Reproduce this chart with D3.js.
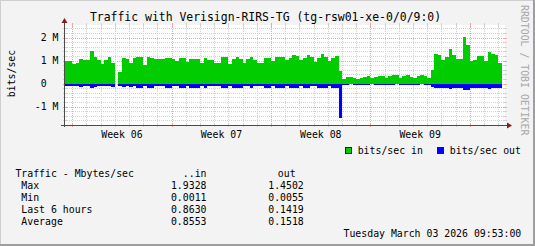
<!DOCTYPE html>
<html>
<head>
<meta charset="utf-8">
<script src="https://cdn.jsdelivr.net/npm/d3@7"></script>
<style>
    html, body { margin: 0; padding: 0; background: #f3f3f3; }
    svg { display: block; }
    text { font-family: "DejaVu Sans Mono", monospace; white-space: pre; }
</style>
</head>
<body>
<div id="chart"></div>
<script>
// 6-hour averages in Mbit/s, first bin starts 2026-02-01 12:00 UTC
const binStart = Date.UTC(2026, 1, 1, 12);
const binHours = 6;
const timeWindow = [Date.UTC(2026, 1, 1, 11, 40), Date.UTC(2026, 2, 4, 11, 20)];

const inValues = [
    1.00, 1.00, 0.87, 0.90, 1.07, 1.03, 1.03, 1.42, 1.17, 1.04,
    0.85, 1.04, 1.16, 0.91, null, 0.50, 1.11, 1.07, 0.90, 1.12,
    1.15, 1.14, 0.81, 1.16, 1.13, 1.07, 1.06, 1.06, 1.13, 1.13,
    1.06, 0.97, 1.10, 1.10, 0.92, 1.08, 1.08, 1.08, 0.91, 1.10,
    1.04, 1.04, 0.89, 0.89, 1.14, 1.14, 0.85, 1.06, 1.16, 1.06,
    0.91, 1.06, 1.14, 1.03, 0.89, 0.89, 1.11, 1.11, 0.98, 1.14,
    1.16, 1.16, 1.04, 1.11, 1.24, 1.20, 1.01, 1.11, 1.24, 1.16,
    0.95, 1.11, 1.29, 1.16, 1.00, 1.11, 1.20, 0.56, 0.19, 0.29,
    0.29, 0.23, 0.20, 0.26, 0.30, 0.34, 0.26, 0.30, 0.34, 0.34,
    0.26, 0.33, 0.37, 0.37, 0.26, 0.34, 0.37, 0.30, 0.26, 0.33,
    0.37, 0.32, 0.24, 0.59, 1.29, 1.24, 1.04, 1.16, 1.50, 1.24,
    1.07, 1.07, 2.02, 1.68, 1.00, 1.02, 1.20, 1.20, 1.00, 1.37,
    1.29, 1.24, 0.90
];
const outValues = [
    0.10, 0.10, 0.10, 0.10, 0.16, 0.10, 0.10, 0.20, 0.16, 0.10,
    0.10, 0.10, 0.10, 0.16, null, 0.10, 0.16, 0.10, 0.16, 0.10,
    0.17, 0.17, 0.10, 0.17, 0.17, 0.10, 0.10, 0.10, 0.17, 0.17,
    0.10, 0.10, 0.17, 0.17, 0.10, 0.17, 0.17, 0.17, 0.10, 0.17,
    0.10, 0.10, 0.10, 0.10, 0.17, 0.17, 0.10, 0.17, 0.17, 0.17,
    0.10, 0.10, 0.17, 0.10, 0.10, 0.10, 0.17, 0.17, 0.10, 0.17,
    0.17, 0.17, 0.10, 0.17, 0.17, 0.17, 0.10, 0.17, 0.17, 0.10,
    0.10, 0.17, 0.17, 0.17, 0.10, 0.17, 0.17, 1.50, 0.04, 0.04,
    0.03, 0.04, 0.04, 0.05, 0.04, 0.04, 0.03, 0.04, 0.04, 0.05,
    0.04, 0.04, 0.04, 0.03, 0.04, 0.04, 0.05, 0.04, 0.04, 0.04,
    0.03, 0.04, 0.04, 0.13, 0.18, 0.18, 0.18, 0.18, 0.22, 0.18,
    0.18, 0.18, 0.29, 0.29, 0.18, 0.18, 0.18, 0.18, 0.18, 0.22,
    0.18, 0.18, 0.18
];

const yMajor = [-1, 0, 1, 2];
const yLabels = ["-1 M", "0  ", "1 M", "2 M"];
const weekLabels = ["Week 06", "Week 07", "Week 08", "Week 09"];
const seriesNames = ["bits/sec in", "bits/sec out"];
const statHeader = ["Traffic - Mbytes/sec", "..in", "out"];
const statRows = [" Max", " Min", " Last 6 hours", " Average"];
const statIn = ["1.9328", "0.0011", "0.8630", "0.8553"];
const statOut = ["1.4502", "0.0055", "0.1419", "0.1518"];
const stamp = "Tuesday March 03 2026 09:53:00";

const width = 535, height = 246;
const plot = { left: 65, right: 505, top: 25, bottom: 125 };
const colors = { in: "#00cc00", out: "#0000ff", grid: "#d2d2d2", mgrid: "#f2a2a2", axis: "#4a4a4a", arrow: "#8c1a1a" };
const fontSmall = "9.85px";

const svg = d3.select("#chart").append("svg")
    .attr("width", width)
    .attr("height", height);

// background and shaded frame
svg.append("rect").attr("width", width).attr("height", height).attr("fill", "#f3f3f3");
svg.append("path").attr("d", `M0,${height} V0 H${width}`).attr("fill", "none")
    .attr("stroke", "#cfcfcf").attr("stroke-width", 2);
svg.append("path").attr("d", `M0,${height - 1} H${width - 1} V0`).attr("fill", "none")
    .attr("stroke", "#9e9e9e").attr("stroke-width", 2);

const x = d3.scaleUtc().domain(timeWindow).range([plot.left, plot.right]);
const y = d3.scaleLinear().domain([-1.8, 2.55]).range([plot.bottom, plot.top]);

// canvas
svg.append("rect")
    .attr("x", plot.left).attr("y", plot.top)
    .attr("width", plot.right - plot.left).attr("height", plot.bottom - plot.top)
    .attr("fill", "#fff");

const grid = svg.append("g").attr("shape-rendering", "crispEdges");

// horizontal grid, every 0.2 M
const yMinor = d3.range(-8, 13).map(i => i / 5).filter(v => !yMajor.includes(v));
function hLine(v, color) {
    const yy = Math.round(y(v)) + 0.5;
    grid.append("line").attr("x1", plot.left).attr("x2", plot.right).attr("y1", yy).attr("y2", yy)
        .attr("stroke", color).attr("stroke-dasharray", "1,1");
    grid.append("line").attr("x1", plot.left - 2).attr("x2", plot.left + 2).attr("y1", yy).attr("y2", yy)
        .attr("stroke", color);
    grid.append("line").attr("x1", plot.right - 2).attr("x2", plot.right + 2).attr("y1", yy).attr("y2", yy)
        .attr("stroke", color);
}
yMinor.forEach(v => hLine(v, colors.grid));
yMajor.forEach(v => hLine(v, colors.mgrid));

// vertical grid, every day; Mondays red
const days = d3.utcDay.range(...timeWindow);
const mondays = d3.utcMonday.range(...timeWindow);
function vLine(t, color) {
    const xx = Math.round(x(t)) + 0.5;
    grid.append("line").attr("x1", xx).attr("x2", xx).attr("y1", plot.top).attr("y2", plot.bottom)
        .attr("stroke", color).attr("stroke-dasharray", "1,1");
    grid.append("line").attr("x1", xx).attr("x2", xx).attr("y1", plot.bottom - 2).attr("y2", plot.bottom + 2)
        .attr("stroke", color);
    grid.append("line").attr("x1", xx).attr("x2", xx).attr("y1", plot.top - 2).attr("y2", plot.top + 2)
        .attr("stroke", color);
}
days.filter(d => d.getUTCDay() !== 1).forEach(d => vLine(d, colors.grid));
mondays.forEach(d => vLine(d, colors.mgrid));

// data as step areas
function steps(values, sign) {
    const pts = [];
    values.forEach((v, i) => {
        const t0 = binStart + i * binHours * 3600e3;
        const t1 = t0 + binHours * 3600e3;
        pts.push({ t: t0, v: v == null ? null : sign * v });
        pts.push({ t: t1, v: v == null ? null : sign * v });
    });
    return pts;
}
const area = d3.area()
    .defined(d => d.v != null)
    .x(d => x(d.t))
    .y0(y(0))
    .y1(d => y(d.v));

svg.append("clipPath").attr("id", "plotclip").append("rect")
    .attr("x", plot.left).attr("y", plot.top)
    .attr("width", plot.right - plot.left).attr("height", plot.bottom - plot.top);

const marks = svg.append("g").attr("clip-path", "url(#plotclip)").attr("shape-rendering", "crispEdges");
marks.append("path").attr("d", area(steps(inValues, 1))).attr("fill", colors.in);
marks.append("path").attr("d", area(steps(outValues, -1))).attr("fill", colors.out);

// axes
const axes = svg.append("g").attr("shape-rendering", "crispEdges");
axes.append("line").attr("x1", plot.left - 4).attr("x2", plot.right + 3)
    .attr("y1", plot.bottom + 0.5).attr("y2", plot.bottom + 0.5).attr("stroke", colors.axis);
axes.append("line").attr("x1", plot.left - 0.5).attr("x2", plot.left - 0.5)
    .attr("y1", plot.bottom + 2).attr("y2", plot.top - 3).attr("stroke", colors.axis);
svg.append("path")
    .attr("d", `M${plot.right + 2},${plot.bottom - 2.5} L${plot.right + 7},${plot.bottom + 0.5} L${plot.right + 2},${plot.bottom + 3.5} Z`)
    .attr("fill", colors.arrow);
svg.append("path")
    .attr("d", `M${plot.left - 3.5},${plot.top - 2} L${plot.left - 0.5},${plot.top - 7} L${plot.left + 2.5},${plot.top - 2} Z`)
    .attr("fill", colors.arrow);

// y labels
svg.append("g").selectAll("text")
    .data(yMajor)
    .join("text")
    .attr("x", 58.5)
    .attr("y", v => y(v) + 3.6)
    .attr("text-anchor", "end")
    .attr("font-size", fontSmall)
    .text((v, i) => yLabels[i]);

// week labels at week middles
svg.append("g").selectAll("text")
    .data(mondays.slice(0, weekLabels.length))
    .join("text")
    .attr("x", d => x(d3.utcHour.offset(d, 84)))
    .attr("y", 137.7)
    .attr("text-anchor", "middle")
    .attr("font-size", fontSmall)
    .text((d, i) => weekLabels[i]);

// title and y-axis title
svg.append("text")
    .attr("x", 265.5).attr("y", 20.6)
    .attr("text-anchor", "middle")
    .attr("font-size", "11.45px")
    .text("Traffic with Verisign-RIRS-TG (tg-rsw01-xe-0/0/9:0)");
svg.append("text")
    .attr("transform", "translate(15,73.5) rotate(-90)")
    .attr("text-anchor", "middle")
    .attr("font-size", fontSmall)
    .text("bits/sec");

// watermark
svg.append("text")
    .attr("transform", "translate(521,5) rotate(90)")
    .attr("font-size", fontSmall)
    .attr("fill", "#a8a8a8")
    .text("RRDTOOL / TOBI OETIKER");

// legend
const legend = [
    { name: seriesNames[0], color: colors.in, box: 345, text: 357.7 },
    { name: seriesNames[1], color: colors.out, box: 437, text: 449.8 }
];
legend.forEach(l => {
    svg.append("rect").attr("x", l.box + 0.5).attr("y", 147.5).attr("width", 6).attr("height", 6)
        .attr("fill", l.color).attr("stroke", "#222").attr("shape-rendering", "crispEdges");
    svg.append("text").attr("x", l.text).attr("y", 153.5).attr("font-size", fontSmall).text(l.name);
});

// statistics table
const table = svg.append("g").attr("font-size", fontSmall);
table.append("text").attr("x", 15.4).attr("y", 177.4).text(statHeader[0]);
table.append("text").attr("x", 206.5).attr("y", 177.4).attr("text-anchor", "end").text(statHeader[1]);
table.append("text").attr("x", 295.6).attr("y", 177.4).attr("text-anchor", "end").text(statHeader[2]);
statRows.forEach((r, i) => {
    const yy = 189.2 + i * 12;
    table.append("text").attr("x", 15.4).attr("y", yy).text(r);
    table.append("text").attr("x", 206.5).attr("y", yy).attr("text-anchor", "end").text(statIn[i]);
    table.append("text").attr("x", 303.8).attr("y", yy).attr("text-anchor", "end").text(statOut[i]);
});
table.append("text").attr("x", 521.3).attr("y", 237.4).attr("text-anchor", "end").text(stamp);
</script>
</body>
</html>
